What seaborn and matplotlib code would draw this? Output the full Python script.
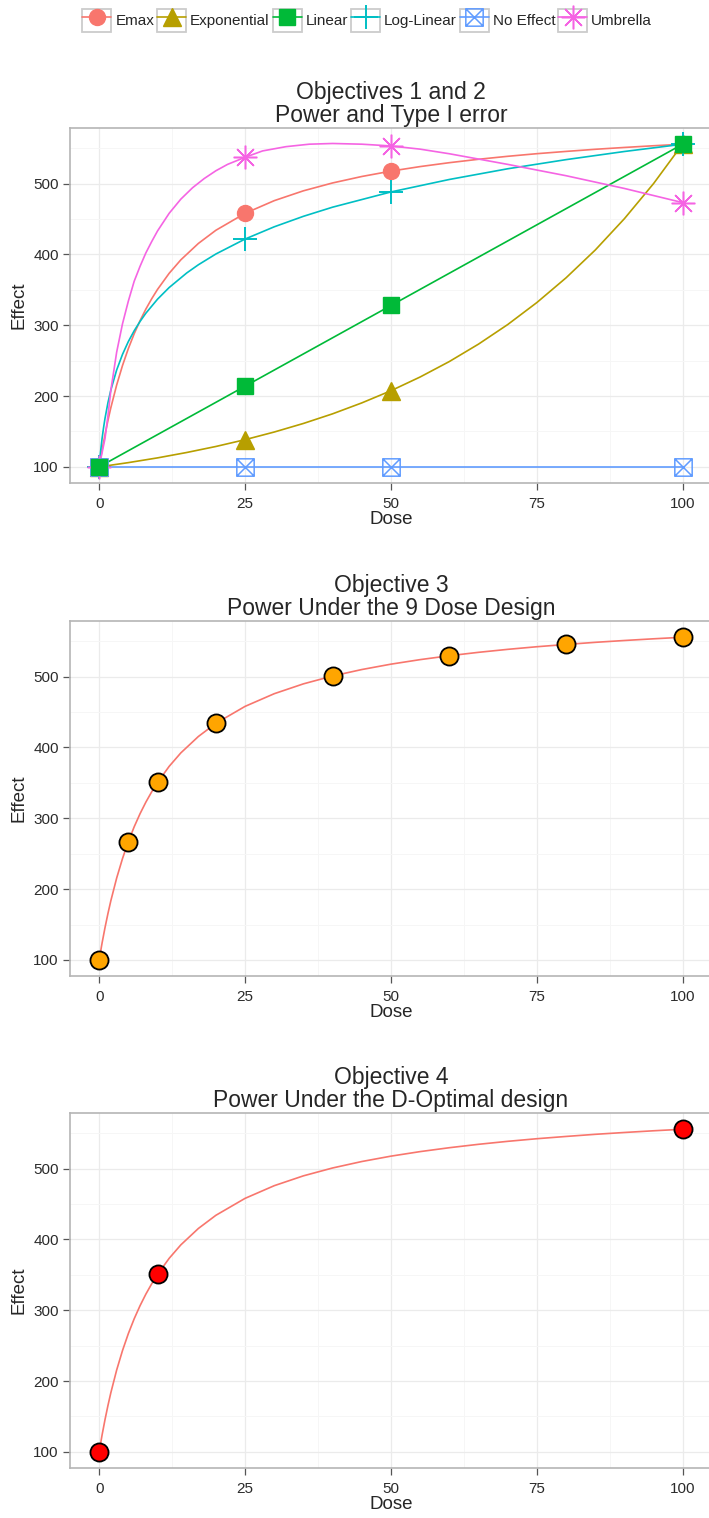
import pandas as pd
import matplotlib
matplotlib.use("Agg")
import matplotlib.pyplot as plt
from matplotlib.path import Path
from matplotlib.lines import Line2D
from matplotlib.patches import Rectangle
from matplotlib.legend_handler import HandlerTuple
import seaborn as sns

# --- data ---
models = ["Emax", "Exponential", "Linear", "Log-Linear", "No Effect", "Umbrella"]
colors = ["#F8766D", "#B79F00", "#00BA38", "#00BFC4", "#619CFF", "#F564E3"]

# design points (objectives 1 and 2)
design_doses = [0, 25, 50, 100]
emax_pts = [100, 457.9, 517.5, 555.5]
expo_pts = [100, 138.4, 207.5, 556.0]
linear_pts = [100, 213.9, 327.8, 555.6]
loglin_pts = [100, 421.6, 488.1, 555.5]
noeff_pts = [100, 100, 100, 100]
umbrella_pts = [100, 537.0, 553.0, 473.0]

# model curves
emax_dose = [0, 0.5, 1, 1.5, 2, 3, 4, 5, 6, 7, 8, 9, 10, 12, 14, 17, 20, 25, 30, 35, 40, 45,
             50, 55, 60, 65, 70, 75, 80, 85, 90, 95, 100]
emax_curve = [100, 123.9, 145.5, 165.3, 183.5, 215.6, 243.1, 267.0, 287.9, 306.3, 322.7, 337.3,
              350.5, 373.3, 392.3, 415.4, 434.0, 457.9, 475.8, 489.7, 500.8, 509.9, 517.5, 523.9,
              529.4, 534.2, 538.4, 542.1, 545.3, 548.3, 550.9, 553.3, 555.5]

expo_dose = [0, 5, 10, 15, 20, 25, 30, 35, 40, 45, 50, 55, 60, 65, 70, 75, 80, 85, 90, 95, 100]
expo_curve = [100, 106.0, 112.7, 120.3, 128.8, 138.4, 149.2, 161.3, 174.9, 190.3, 207.5,
              226.9, 248.7, 273.3, 300.9, 332.0, 366.9, 406.1, 450.4, 500.0, 556.0]

linear_dose = [0, 25, 50, 75, 100]
linear_curve = [100, 213.9, 327.8, 441.7, 555.6]

loglin_dose = [0, 0.25, 0.5, 0.75, 1, 1.5, 2, 3, 4, 5, 6, 7, 8, 10, 12, 15, 17, 20, 25, 30, 35,
               40, 50, 60, 70, 80, 90, 100]
loglin_curve = [100, 122.0, 140.0, 155.2, 168.4, 190.4, 208.4, 236.8, 258.8, 276.9, 292.1, 305.2,
                316.9, 336.7, 353.2, 373.7, 385.3, 400.5, 421.6, 438.9, 453.7, 466.6, 488.1,
                505.7, 520.8, 533.7, 545.2, 555.5]

noeff_dose = [0, 100]
noeff_curve = [100, 100]

umbrella_dose = [0, 0.5, 1, 1.5, 2, 3, 4, 5, 6, 7, 8, 9, 10, 12, 14, 16, 18, 20, 22, 25, 28, 32,
                 36, 40, 45, 50, 55, 60, 70, 80, 90, 100]
umbrella_curve = [100, 120, 140, 172, 208, 262, 302, 334, 362, 383, 402, 418, 433, 458, 478, 494,
                  507, 518, 527, 537, 546, 552, 555.5, 556.5, 555.5, 553, 548.5, 542, 527, 511,
                  493, 473]

# objective 3: nine dose design, objective 4: D-optimal design
nine_doses = [0, 5, 10, 20, 40, 60, 80, 100]
nine_effect = [100, 267.0, 350.5, 434.0, 500.8, 529.4, 545.3, 555.5]
dopt_doses = [0, 10, 100]
dopt_effect = [100, 350.5, 555.5]

# --- markers ---
box_x = Path([(-1, -1), (1, -1), (1, 1), (-1, 1), (-1, -1), (-1, -1), (1, 1), (-1, 1), (1, -1)],
             [Path.MOVETO, Path.LINETO, Path.LINETO, Path.LINETO, Path.CLOSEPOLY,
              Path.MOVETO, Path.LINETO, Path.MOVETO, Path.LINETO])
marker_style = {
    "Emax": dict(marker="o", ms=11.5),
    "Exponential": dict(marker="^", ms=13),
    "Linear": dict(marker="s", ms=11.5),
    "Log-Linear": dict(marker="+", ms=17, mew=1.4),
    "No Effect": dict(marker=box_x, ms=12.5, mew=1.1, mfc="none"),
    "Umbrella": dict(marker=(8, 2, 0), ms=17, mew=1.1),
}

curve_frames = []
for name, d, e in [("Emax", emax_dose, emax_curve), ("Exponential", expo_dose, expo_curve),
                   ("Linear", linear_dose, linear_curve), ("Log-Linear", loglin_dose, loglin_curve),
                   ("No Effect", noeff_dose, noeff_curve), ("Umbrella", umbrella_dose, umbrella_curve)]:
    curve_frames.append(pd.DataFrame({"Dose": d, "Effect": e, "Model": name}))
curves = pd.concat(curve_frames, ignore_index=True)

points = pd.DataFrame({
    "Dose": design_doses * 6,
    "Effect": emax_pts + expo_pts + linear_pts + loglin_pts + noeff_pts + umbrella_pts,
    "Model": [m for m in models for _ in design_doses],
})

sns.set_theme(style="white")
plt.rcParams["font.family"] = ["Liberation Sans", "DejaVu Sans"]
palette = dict(zip(models, colors))
LW = 1.2


def style_axes(ax, title):
    ax.set_xlim(-5, 105)
    ax.set_ylim(77.2, 578.4)
    ax.set_xticks([0, 25, 50, 75, 100])
    ax.set_yticks([100, 200, 300, 400, 500])
    ax.set_xticks([12.5, 37.5, 62.5, 87.5], minor=True)
    ax.set_yticks([150, 250, 350, 450, 550], minor=True)
    ax.set_axisbelow(True)
    ax.grid(which="major", color="#ebebeb", lw=0.9)
    ax.grid(which="minor", color="#f6f6f6", lw=0.7)
    ax.tick_params(which="minor", length=0)
    ax.tick_params(which="major", length=5, width=0.9, color="#555555",
                   labelsize=11, labelcolor="#2b2b2b", pad=3,
                   bottom=True, left=True)
    ax.tick_params(axis="x", pad=5)
    for sp in ax.spines.values():
        sp.set_color("#b5b5b5")
        sp.set_linewidth(1.2)
    ax.set_xlabel("Dose", fontsize=13.5, labelpad=0)
    ax.set_ylabel("Effect", fontsize=13.5, labelpad=4)
    ax.set_title(title, fontsize=16.5, pad=4, linespacing=1.05)


fig = plt.figure(figsize=(7.09, 15.18), dpi=100)
left, width, height = 0.0987, 0.9055, 0.2339
ax1 = fig.add_axes([left, 0.6818, width, height])
ax2 = fig.add_axes([left, 0.3570, width, height])
ax3 = fig.add_axes([left, 0.0329, width, height])

# --- Objectives 1 and 2 ---
sns.lineplot(data=curves, x="Dose", y="Effect", hue="Model", hue_order=models,
             palette=palette, lw=LW, legend=False, ax=ax1, sort=True, estimator=None)
for name in models:
    sub = points[points["Model"] == name]
    ax1.plot(sub["Dose"], sub["Effect"], ls="none", color=palette[name],
             zorder=5 if name == "Linear" else 4, **marker_style[name])
style_axes(ax1, "Objectives 1 and 2\nPower and Type I error")

# --- Objective 3 ---
sns.lineplot(x=emax_dose, y=emax_curve, color=colors[0], lw=LW, ax=ax2, estimator=None)
sns.scatterplot(x=nine_doses, y=nine_effect, color="#FFA500", edgecolor="black",
                linewidth=1.3, s=170, zorder=4, ax=ax2)
style_axes(ax2, "Objective 3\nPower Under the 9 Dose Design")

# --- Objective 4 ---
sns.lineplot(x=emax_dose, y=emax_curve, color=colors[0], lw=LW, ax=ax3, estimator=None)
sns.scatterplot(x=dopt_doses, y=dopt_effect, color="#FF0000", edgecolor="black",
                linewidth=1.3, s=170, zorder=4, ax=ax3)
style_axes(ax3, "Objective 4\nPower Under the D-Optimal design")

# --- legend on top, with grey key boxes like ggplot ---
handles = []
for m in models:
    box = Rectangle((0, 0), 1, 1, facecolor="white", edgecolor="#cccccc", lw=1.3)
    key = Line2D([0], [0], color=palette[m], lw=LW, **marker_style[m])
    handles.append((box, key))
fig.legend(handles, models, handler_map={tuple: HandlerTuple(ndivide=1, pad=0)},
           loc="center", bbox_to_anchor=(0.518, 0.9865), ncol=6,
           frameon=False, fontsize=11, handlelength=1.9, handleheight=1.9,
           handletextpad=0.25, columnspacing=0.2, borderaxespad=0)

fig.savefig("out.png", dpi=100)
